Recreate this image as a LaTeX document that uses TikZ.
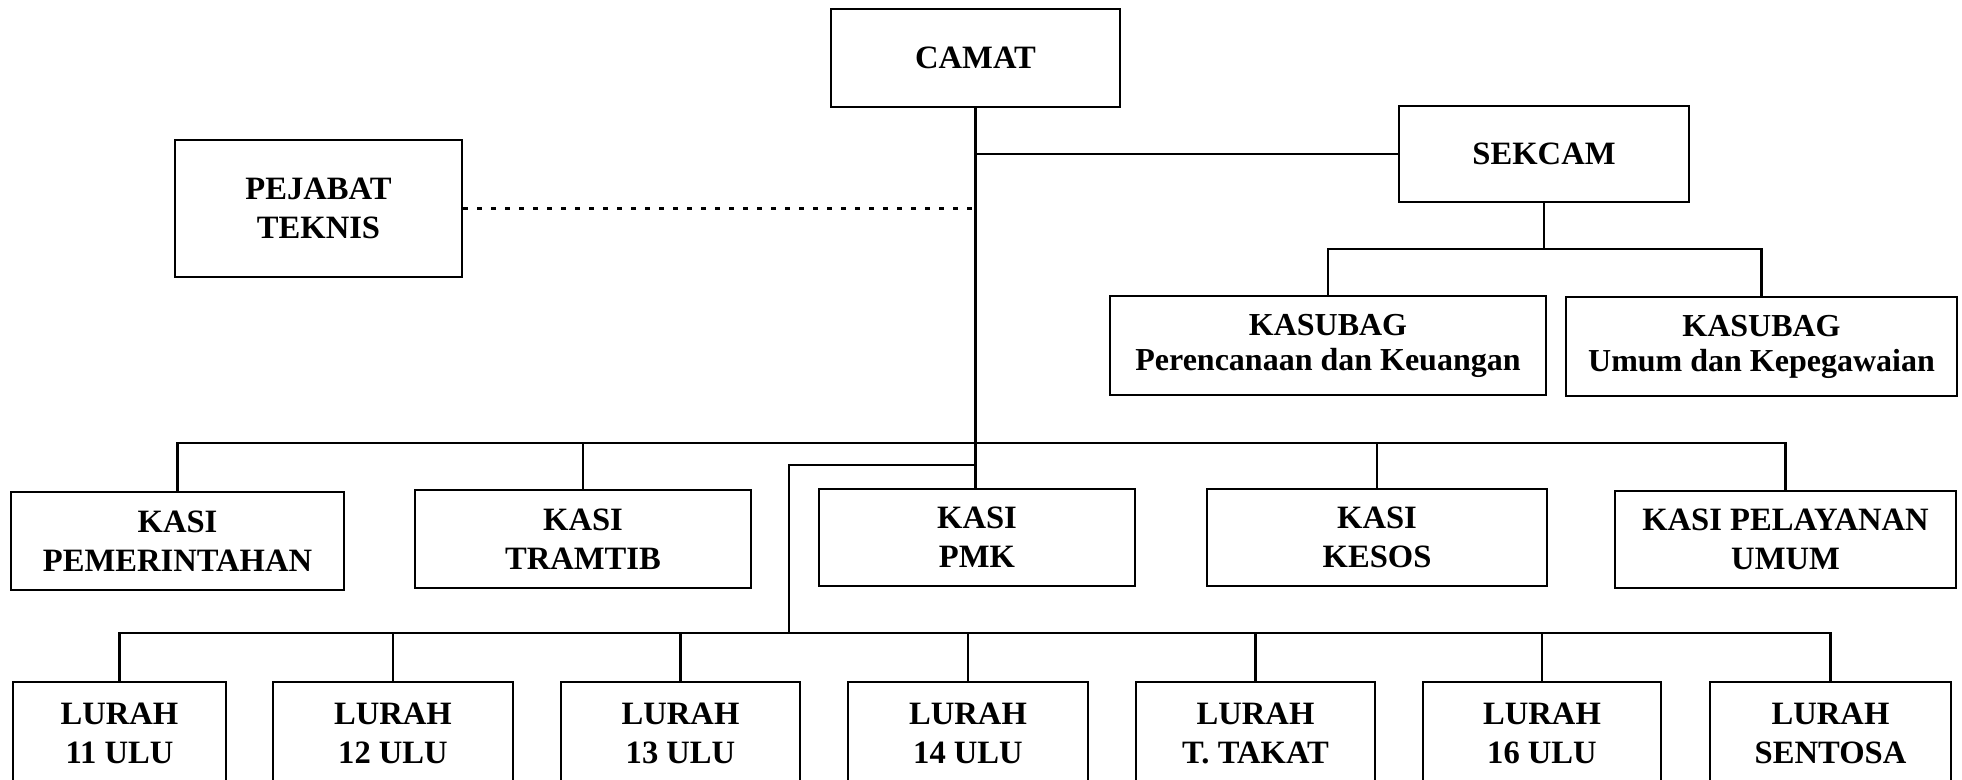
\documentclass[tikz,border=0pt]{standalone}
\usepackage{fontspec}
\setmainfont{Liberation Serif}
\begin{document}
\begin{tikzpicture}[x=0.5pt,y=-0.5pt,
  box/.style={draw, line width=1.35pt, rectangle, align=center, inner sep=0pt,
    font=\bfseries\fontsize{16.3}{19.5}\selectfont},
  conn/.style={line width=1.1pt},
  dotline/.style={line width=1.5pt, dash pattern=on 2.4pt off 4.6pt}]
\useasboundingbox (0,0) rectangle (1962,780);
\begin{scope}
\clip (0,0) rectangle (1962,780);
% top level
\node[box, minimum width=144.5pt, minimum height=49pt] (camat) at (975.5,58) {CAMAT};
\node[box, minimum width=145pt, minimum height=48pt] (sekcam) at (1544,154) {SEKCAM};
\node[box, minimum width=143.5pt, minimum height=68.5pt] (pejabat) at (318.5,208.5) {PEJABAT\\TEKNIS};
\node[box, minimum width=218pt, minimum height=49.5pt, font=\bfseries\fontsize{16}{17.5}\selectfont] (kp) at (1328,345.5) {KASUBAG\\Perencanaan dan Keuangan};
\node[box, minimum width=195.5pt, minimum height=49.5pt, font=\bfseries\fontsize{16}{17.5}\selectfont] (ku) at (1761.5,346.5) {KASUBAG\\Umum dan Kepegawaian};
% KASI row
\node[box, minimum width=166.5pt, minimum height=49pt] (pem) at (177.5,541) {KASI\\PEMERINTAHAN};
\node[box, minimum width=168pt, minimum height=49pt] (tram) at (583,539) {KASI\\TRAMTIB};
\node[box, minimum width=158pt, minimum height=48.5pt] (pmk) at (977,537.5) {KASI\\PMK};
\node[box, minimum width=170pt, minimum height=48.5pt] (kesos) at (1377,537.5) {KASI\\KESOS};
\node[box, minimum width=170.5pt, minimum height=48.5pt] (pel) at (1785.5,539.5) {KASI PELAYANAN\\UMUM};
% LURAH row
\node[box, minimum width=106.5pt, minimum height=51pt] (l11) at (119.5,733) {LURAH\\11 ULU};
\node[box, minimum width=120pt, minimum height=51pt] (l12) at (393,733) {LURAH\\12 ULU};
\node[box, minimum width=119.5pt, minimum height=51pt] (l13) at (680.5,733) {LURAH\\13 ULU};
\node[box, minimum width=120pt, minimum height=51pt] (l14) at (968,733) {LURAH\\14 ULU};
\node[box, minimum width=119.5pt, minimum height=51pt] (ltt) at (1255.5,733) {LURAH\\T. TAKAT};
\node[box, minimum width=119pt, minimum height=51pt] (l16) at (1542,733) {LURAH\\16 ULU};
\node[box, minimum width=120.5pt, minimum height=51pt] (lsen) at (1830.5,733) {LURAH\\SENTOSA};
% connectors
\coordinate (kbus) at (976,443);
\coordinate (ljoin) at (976,465);
\coordinate (lbus) at (789,633);
\coordinate (sbus) at (1544,249);
\draw[conn] (camat.south) -- (camat.south |- pmk.north);
\draw[conn] (camat.south |- sekcam.west) -- (sekcam.west);
\draw[dotline] (pejabat.east) -- (pejabat.east -| camat.south);
\draw[conn] (sekcam.south) -- (sbus);
\draw[conn] (kp.north) |- (sbus) -| (ku.north);
\draw[conn] (pem.north) |- (kbus) -| (pel.north);
\draw[conn] (tram.north) -- (tram.north |- kbus);
\draw[conn] (kesos.north) -- (kesos.north |- kbus);
\draw[conn] (ljoin) -| (lbus);
\draw[conn] (l11.north) |- (lbus) -| (lsen.north);
\draw[conn] (l12.north) -- (l12.north |- lbus);
\draw[conn] (l13.north) -- (l13.north |- lbus);
\draw[conn] (l14.north) -- (l14.north |- lbus);
\draw[conn] (ltt.north) -- (ltt.north |- lbus);
\draw[conn] (l16.north) -- (l16.north |- lbus);
\end{scope}
\end{tikzpicture}
\end{document}
